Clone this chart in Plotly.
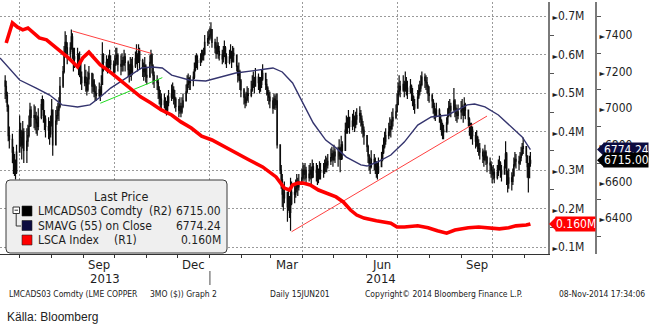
import pandas as pd
import plotly.graph_objects as go

# ---------------------------------------------------------------- data
# LME copper 3M (LMCADS03), daily bars, Mon 17-Jun-2013 .. Fri 07-Nov-2014
first_open = 7150
close = [
    7120, 7070, 7010, 6850, 6830,  6760, 6700, 6680, 6650, 6760,
    6880, 6840, 6800, 6870, 6770,  6820, 6850, 6900, 6990, 6950,
    6960, 6940, 6920, 6900, 6950,  7020, 7040, 6960, 6940, 6900,
    6880, 6860, 6920, 6990, 6800,  6930, 6960, 6990, 7010, 7120,
    7200, 7300, 7360, 7330, 7300,  7330, 7390, 7310, 7270, 7280,
    7280, 7230, 7250, 7170, 7140,  7170, 7140, 7100, 7160, 7190,
    7120, 7150, 7090, 7080, 7070,  7100, 7080, 7130, 7290, 7250,
    7230, 7220, 7250, 7260, 7240,  7200, 7240, 7270, 7290, 7240,
    7230, 7260, 7240, 7280, 7250,  7210, 7180, 7240, 7200, 7230,
    7270, 7290, 7250, 7310, 7260,  7220, 7200, 7230, 7180, 7170,
    7250, 7290, 7230, 7180, 7150,  7140, 7100, 7060, 7050, 7020,
    7040, 7000, 6990, 7030, 7060,  7080, 7100, 7060, 7050, 7010,
    6990, 7010, 6980, 7010, 7040,  7090, 7130, 7160, 7140, 7150,
    7170, 7210, 7240, 7260, 7250,  7270, 7290, 7290, 7300, 7360,
    7380, 7390, 7400, 7430, 7360,  7330, 7300, 7340, 7310, 7290,
    7270, 7300, 7330, 7280, 7250,  7280, 7310, 7260, 7300, 7290,
    7230, 7180, 7200, 7150, 7100,  7060, 7030, 7050, 7080, 7070,
    7100, 7130, 7150, 7120, 7170,  7140, 7120, 7130, 7160, 7190,
    7130, 7110, 7080, 7060, 7040,  7000, 7050, 7020, 7040, 6800,
    6660, 6610, 6530, 6510, 6540,  6460, 6500, 6430, 6480, 6540,
    6530, 6560, 6600, 6570, 6600,  6620, 6660, 6640, 6660, 6620,
    6640, 6660, 6620, 6680, 6660,  6650, 6630, 6620, 6660, 6650,
    6660, 6680, 6700, 6690, 6710,  6730, 6750, 6720, 6760, 6740,
    6740, 6780, 6720, 6800, 6770,  6880, 6920, 6900, 6950, 6900,
    6930, 6950, 6910, 6940, 6960,  6970, 6940, 6910, 6880, 6850,
    6790, 6740, 6700, 6680, 6720,  6700, 6680, 6660, 6650, 6680,
    6720, 6760, 6790, 6820, 6850,  6870, 6900, 6890, 6930, 6950,
    6980, 7020, 7090, 7120, 7100,  7130, 7100, 7140, 7110, 7090,
    7120, 7080, 7060, 7020, 7000,  7060, 7090, 7110, 7130, 7170,
    7150, 7140, 7120, 7080, 7070,  7040, 7010, 6980, 6960, 6990,
    6960, 6930, 6900, 6880, 6870,  6920, 6960, 7000, 7010, 6990,
    7040, 7000, 6970, 6960, 6980,  6990, 7010, 6960, 7020, 6990,
    6940, 6900, 6880, 6880, 6850,  6820, 6840, 6800, 6780, 6760,
    6740, 6720, 6760, 6730, 6700,  6690, 6660, 6640, 6650, 6620,
    6650, 6680, 6700, 6660, 6640,  6680, 6750, 6640, 6590, 6620,
    6600, 6630, 6690, 6720, 6710,  6700, 6730, 6750, 6780, 6790,
    6740, 6680, 6620, 6700, 6715.00,
]
high = [
    7180, 7150, 7090, 7020, 6900,  6860, 6790, 6750, 6720, 6800,
    6960, 6920, 6880, 6930, 6890,  6890, 6910, 6960, 7030, 7010,
    7020, 7010, 6980, 6960, 7000,  7050, 7070, 7050, 6990, 6960,
    6950, 6930, 6960, 7050, 6990,  6990, 7010, 7030, 7060, 7170,
    7230, 7340, 7420, 7400, 7360,  7360, 7430, 7410, 7330, 7330,
    7330, 7300, 7310, 7260, 7200,  7240, 7210, 7170, 7200, 7230,
    7190, 7190, 7160, 7130, 7120,  7140, 7120, 7180, 7360, 7300,
    7290, 7270, 7290, 7320, 7290,  7260, 7290, 7330, 7330, 7300,
    7290, 7300, 7280, 7320, 7300,  7260, 7240, 7280, 7270, 7280,
    7310, 7350, 7300, 7350, 7330,  7270, 7250, 7280, 7240, 7220,
    7290, 7320, 7300, 7240, 7200,  7180, 7160, 7120, 7100, 7080,
    7080, 7060, 7040, 7070, 7100,  7130, 7140, 7120, 7100, 7060,
    7050, 7060, 7030, 7060, 7080,  7130, 7180, 7190, 7170, 7180,
    7200, 7250, 7290, 7300, 7290,  7300, 7320, 7320, 7330, 7400,
    7420, 7430, 7440, 7470, 7410,  7380, 7360, 7390, 7360, 7340,
    7320, 7340, 7370, 7340, 7300,  7320, 7350, 7300, 7340, 7330,
    7280, 7230, 7250, 7210, 7160,  7110, 7080, 7090, 7120, 7110,
    7150, 7180, 7200, 7170, 7220,  7190, 7170, 7170, 7210, 7240,
    7180, 7160, 7120, 7100, 7090,  7060, 7080, 7070, 7080, 7080,
    6730, 6690, 6640, 6580, 6600,  6540, 6560, 6520, 6620, 6600,
    6590, 6610, 6640, 6620, 6640,  6670, 6700, 6690, 6700, 6680,
    6690, 6700, 6680, 6720, 6700,  6700, 6690, 6670, 6710, 6700,
    6700, 6720, 6740, 6730, 6750,  6780, 6790, 6770, 6800, 6780,
    6790, 6830, 6790, 6850, 6820,  6920, 6960, 6950, 6990, 6950,
    6970, 6990, 6960, 6980, 7000,  7010, 6990, 6960, 6930, 6900,
    6840, 6800, 6750, 6730, 6770,  6750, 6730, 6710, 6700, 6730,
    6760, 6800, 6840, 6870, 6890,  6920, 6950, 6940, 6980, 7000,
    7020, 7080, 7140, 7180, 7150,  7180, 7150, 7200, 7170, 7150,
    7160, 7130, 7110, 7070, 7050,  7100, 7130, 7150, 7180, 7200,
    7190, 7180, 7170, 7130, 7120,  7080, 7050, 7030, 7000, 7030,
    7000, 6970, 6940, 6920, 6910,  6950, 7000, 7040, 7050, 7030,
    7110, 7050, 7020, 7000, 7020,  7040, 7050, 7010, 7060, 7030,
    6990, 6950, 6920, 6920, 6900,  6870, 6880, 6850, 6830, 6810,
    6780, 6770, 6800, 6770, 6740,  6730, 6710, 6680, 6690, 6670,
    6690, 6720, 6740, 6710, 6690,  6720, 6820, 6760, 6660, 6670,
    6650, 6670, 6730, 6760, 6750,  6740, 6760, 6790, 6810, 6840,
    6790, 6740, 6700, 6740, 6760,
]
low = [
    7050, 7030, 6980, 6820, 6780,  6700, 6640, 6630, 6610, 6640,
    6760, 6790, 6720, 6780, 6700,  6700, 6790, 6840, 6900, 6900,
    6890, 6880, 6860, 6850, 6880,  6940, 6990, 6920, 6880, 6840,
    6830, 6800, 6840, 6900, 6740,  6900, 6910, 6940, 6930, 7000,
    7110, 7190, 7290, 7280, 7240,  7260, 7320, 7270, 7200, 7220,
    7240, 7180, 7170, 7130, 7100,  7120, 7090, 7070, 7090, 7130,
    7080, 7090, 7060, 7040, 7040,  7060, 7040, 7070, 7150, 7200,
    7200, 7190, 7200, 7220, 7210,  7170, 7190, 7230, 7240, 7200,
    7180, 7200, 7200, 7230, 7200,  7170, 7140, 7170, 7150, 7180,
    7220, 7240, 7200, 7260, 7210,  7170, 7150, 7170, 7140, 7130,
    7200, 7240, 7190, 7130, 7110,  7100, 7050, 7020, 7000, 6990,
    7000, 6970, 6960, 6980, 7010,  7040, 7050, 7020, 7000, 6980,
    6950, 6970, 6950, 6970, 7000,  7050, 7080, 7110, 7100, 7100,
    7120, 7160, 7200, 7220, 7210,  7230, 7250, 7260, 7260, 7290,
    7340, 7350, 7370, 7380, 7330,  7300, 7270, 7300, 7270, 7260,
    7240, 7250, 7280, 7240, 7220,  7240, 7270, 7220, 7250, 7250,
    7200, 7140, 7150, 7100, 7060,  7020, 7000, 7010, 7040, 7030,
    7060, 7090, 7110, 7080, 7120,  7100, 7080, 7090, 7110, 7150,
    7100, 7070, 7040, 7020, 7000,  6970, 7000, 6990, 7000, 6780,
    6640, 6560, 6460, 6440, 6480,  6380, 6440, 6400, 6330, 6470,
    6480, 6510, 6540, 6520, 6550,  6580, 6610, 6600, 6610, 6580,
    6600, 6610, 6580, 6620, 6620,  6600, 6580, 6590, 6610, 6610,
    6620, 6640, 6650, 6650, 6670,  6690, 6710, 6680, 6710, 6700,
    6680, 6720, 6650, 6730, 6720,  6830, 6860, 6860, 6890, 6860,
    6880, 6900, 6870, 6890, 6910,  6920, 6900, 6860, 6840, 6800,
    6760, 6700, 6660, 6640, 6670,  6660, 6640, 6620, 6610, 6640,
    6680, 6710, 6750, 6780, 6800,  6830, 6850, 6840, 6880, 6900,
    6940, 6980, 7030, 7070, 7060,  7090, 7060, 7090, 7070, 7050,
    7080, 7040, 7010, 6990, 6970,  7010, 7050, 7070, 7090, 7120,
    7110, 7100, 7080, 7040, 7030,  7000, 6970, 6940, 6930, 6950,
    6920, 6880, 6850, 6830, 6830,  6870, 6910, 6950, 6960, 6950,
    6990, 6950, 6930, 6920, 6940,  6940, 6960, 6920, 6960, 6940,
    6900, 6850, 6830, 6830, 6800,  6780, 6790, 6760, 6740, 6720,
    6700, 6680, 6710, 6690, 6650,  6640, 6620, 6590, 6610, 6590,
    6610, 6630, 6660, 6620, 6600,  6640, 6670, 6580, 6540, 6560,
    6550, 6580, 6630, 6680, 6670,  6660, 6690, 6710, 6740, 6750,
    6700, 6620, 6540, 6640, 6680,
]

# SMAVG (55) on close
sma_dates = [
    "2013-06-12", "2013-07-01", "2013-07-17", "2013-07-30", "2013-08-11",
    "2013-08-26", "2013-09-07", "2013-09-17", "2013-09-27", "2013-10-14",
    "2013-10-27", "2013-11-06", "2013-11-16", "2013-11-25", "2013-12-12",
    "2013-12-28", "2014-01-10", "2014-01-26", "2014-02-24", "2014-03-03",
    "2014-03-12", "2014-03-22", "2014-04-01", "2014-04-11", "2014-04-23",
    "2014-05-03", "2014-05-13", "2014-05-27", "2014-06-02", "2014-06-12",
    "2014-06-25", "2014-07-08", "2014-07-21", "2014-08-03", "2014-08-19",
    "2014-08-28", "2014-09-07", "2014-09-14", "2014-09-24", "2014-10-07",
    "2014-10-20", "2014-10-30", "2014-11-07",
]
sma_vals = [
    7274, 7154, 7110, 7072, 7018,
    7007, 7018, 7061, 7110, 7170,
    7220, 7225, 7220, 7181, 7154,
    7149, 7170, 7192, 7214, 7220,
    7198, 7138, 7028, 6919, 6826,
    6783, 6733, 6690, 6684, 6706,
    6744, 6815, 6908, 6952, 6963,
    6990, 7018, 7023, 7007, 6963,
    6897, 6843, 6774.24,
]

# LSCA Index (millions)
lsca_dates = [
    "2013-06-18", "2013-06-24", "2013-06-29", "2013-07-04", "2013-07-09",
    "2013-07-14", "2013-07-20", "2013-07-27", "2013-08-02", "2013-08-09",
    "2013-08-16", "2013-08-21", "2013-08-26", "2013-08-31", "2013-09-06",
    "2013-09-11", "2013-09-17", "2013-09-24", "2013-09-30", "2013-10-07",
    "2013-10-14", "2013-10-20", "2013-10-26", "2013-11-05", "2013-11-15",
    "2013-11-25", "2013-12-04", "2013-12-14", "2013-12-24", "2014-01-03",
    "2014-01-12", "2014-01-25", "2014-02-08", "2014-02-21", "2014-03-06",
    "2014-03-14", "2014-03-19", "2014-03-22", "2014-03-27", "2014-04-01",
    "2014-04-08", "2014-04-16", "2014-04-23", "2014-05-03", "2014-05-10",
    "2014-05-17", "2014-05-23", "2014-05-30", "2014-06-11", "2014-06-25",
    "2014-07-01", "2014-07-08", "2014-07-21", "2014-07-31", "2014-08-09",
    "2014-08-18", "2014-08-26", "2014-09-08", "2014-09-18", "2014-09-28",
    "2014-10-08", "2014-10-17", "2014-10-24", "2014-11-03", "2014-11-07",
]
lsca_vals = [
    0.630, 0.682, 0.671, 0.664, 0.669,
    0.656, 0.643, 0.638, 0.625, 0.612,
    0.594, 0.581, 0.568, 0.591, 0.606,
    0.591, 0.573, 0.560, 0.547, 0.529,
    0.516, 0.503, 0.490, 0.474, 0.456,
    0.443, 0.425, 0.409, 0.388, 0.378,
    0.365, 0.344, 0.326, 0.308, 0.282,
    0.253, 0.248, 0.261, 0.266, 0.266,
    0.261, 0.248, 0.240, 0.230, 0.217,
    0.196, 0.183, 0.175, 0.168, 0.162,
    0.152, 0.152, 0.155, 0.150, 0.142,
    0.136, 0.144, 0.150, 0.152, 0.150,
    0.147, 0.150, 0.155, 0.157, 0.160,
]

# hand-drawn trend lines (on the copper scale)
trend_top_dates, trend_top_vals = ["2013-08-21", "2013-11-05"], [7422, 7300]
trend_mid_dates, trend_mid_vals = ["2013-09-17", "2013-11-16"], [7027, 7167]
trend_up_dates, trend_up_vals = ["2014-03-21", "2014-09-26"], [6325, 6957]

price_ticks = [6400, 6600, 6800, 7000, 7200, 7400]
price_minor = [6300, 6500, 6700, 6900, 7100, 7300, 7500]
lsca_ticks = [0.1, 0.2, 0.3, 0.4, 0.5, 0.6, 0.7]
lsca_minor = [0.15, 0.25, 0.35, 0.45, 0.55, 0.65]

month_labels = [("2013-09-16", "Sep"), ("2013-12-16", "Dec"), ("2014-03-17", "Mar"),
                ("2014-06-16", "Jun"), ("2014-09-16", "Sep")]
year_labels = [("2013-09-22", "2013"), ("2014-06-15", "2014")]
year_break = "2014-01-01"

trade_days = pd.bdate_range("2013-06-17", periods=len(close))
assert len(close) == len(high) == len(low) == 365
opens = [first_open] + close[:-1]

# ---------------------------------------------------------------- layout helpers
W, H = 655, 324
TOP, BOTTOM = 2, 254
R1_X, R2_X = 548, 596
FONT = "DejaVu Sans Condensed, DejaVu Sans, sans-serif"
TXT = "#1e1e1e"


def px_x(X):
    return X / W


def px_y(Y):
    return (BOTTOM - Y) / (BOTTOM - TOP)


def tri(label):
    return "<span style='font-size:8px'>\u25ba</span>" + label


fig = go.Figure()

fig.add_trace(go.Candlestick(
    x=trade_days, open=opens, high=high, low=low, close=close,
    yaxis="y", xaxis="x", whiskerwidth=0,
    increasing=dict(line=dict(color="#0c0c0c", width=1.2), fillcolor="#7e7e7e"),
    decreasing=dict(line=dict(color="#0c0c0c", width=1.2), fillcolor="#7e7e7e"),
    hoverinfo="skip", name="LMCADS03 Comdty",
))
fig.add_trace(go.Scatter(
    x=sma_dates, y=sma_vals, mode="lines", yaxis="y",
    line=dict(color="#34346e", width=1.4), hoverinfo="skip", name="SMAVG (55)",
))
for d, v, c in [(trend_top_dates, trend_top_vals, "#ff4040"),
                (trend_mid_dates, trend_mid_vals, "#22dd22"),
                (trend_up_dates, trend_up_vals, "#ff4040")]:
    fig.add_trace(go.Scatter(x=d, y=v, mode="lines", yaxis="y",
                             line=dict(color=c, width=1), hoverinfo="skip"))
fig.add_trace(go.Scatter(
    x=lsca_dates, y=lsca_vals, mode="lines", yaxis="y2",
    line=dict(color="#ff0000", width=3.6), hoverinfo="skip", name="LSCA Index",
))

# price axis (R2) spans the same pixel height as the LSCA axis (R1)
p_per_px = (price_ticks[-1] - price_ticks[0]) / (218 - 35)
price_range = [price_ticks[0] - (BOTTOM - 218) * p_per_px,
               price_ticks[-1] + (35 - TOP) * p_per_px]
l_per_px = (lsca_ticks[-1] - lsca_ticks[0]) / (247 - 16)
lsca_range = [lsca_ticks[0] - (BOTTOM - 247) * l_per_px,
              lsca_ticks[-1] + (16 - TOP) * l_per_px]

fig.update_layout(
    width=W, height=H,
    margin=dict(l=0, r=0, t=TOP, b=H - BOTTOM),
    paper_bgcolor="white", plot_bgcolor="white",
    showlegend=False,
    font=dict(family=FONT, color=TXT, size=12),
    xaxis=dict(
        type="date", domain=[0, px_x(R1_X)],
        range=["2013-06-12", "2014-11-24"],
        tickmode="linear", tick0="2013-07-01", dtick="M3",
        showticklabels=False, ticks="outside", ticklen=3, tickcolor="#333",
        showgrid=True, gridcolor="#9a9a9a", griddash="2px,2px", gridwidth=1,
        showline=True, linecolor="#333", linewidth=1,
        minor=dict(tick0="2013-07-01", dtick="M1", ticks="outside",
                   ticklen=3, tickcolor="#333", showgrid=False),
        zeroline=False, rangeslider=dict(visible=False), anchor="y",
    ),
    yaxis=dict(
        anchor="free", position=px_x(R2_X), side="right",
        range=price_range, tickmode="array", tickvals=price_ticks,
        ticktext=[tri(f"{v}") for v in price_ticks], ticks="",
        showgrid=False, zeroline=False,
        showline=True, linecolor="#7a7a7a", linewidth=2,
        minor=dict(tickmode="array", tickvals=price_minor, ticks="outside",
                   ticklen=4, tickcolor="#555", showgrid=False),
        tickfont=dict(size=12, color=TXT, family=FONT),
    ),
    yaxis2=dict(
        overlaying="y", anchor="x", side="right",
        range=lsca_range, tickmode="array", tickvals=lsca_ticks,
        ticktext=[tri(f"{v:.1f}M") for v in lsca_ticks], ticks="",
        showgrid=True, gridcolor="#9a9a9a", griddash="2px,2px", gridwidth=1,
        zeroline=False, showline=True, linecolor="#7a7a7a", linewidth=2,
        minor=dict(tickmode="array", tickvals=lsca_minor, ticks="outside",
                   ticklen=4, tickcolor="#555", showgrid=False),
        tickfont=dict(size=12, color=TXT, family=FONT),
    ),
)

shapes = []
ann = []

# x-axis labels
for d, t in month_labels:
    ann.append(dict(x=d, xref="x", y=px_y(264), yref="paper", text=t, showarrow=False,
                    xanchor="center", yanchor="middle", font=dict(size=13, color=TXT, family=FONT)))
for d, t in year_labels:
    ann.append(dict(x=d, xref="x", y=px_y(278), yref="paper", text=t, showarrow=False,
                    xanchor="center", yanchor="middle", font=dict(size=13, color=TXT, family=FONT)))
shapes.append(dict(type="line", xref="x", yref="paper", x0=year_break, x1=year_break,
                   y0=px_y(271), y1=px_y(285), line=dict(color="#888", width=1.5)))

# footer
foot_font = dict(size=8.5, color="#222", family=FONT)
for X, t in [(7, "LMCADS03 Comdty (LME COPPER"), (148, "3MO ($)) Graph 2"),
             (268, "Daily 15JUN201"), (363, "Copyright\u00a9 2014 Bloomberg Finance L.P."),
             (557, "08-Nov-2014 17:34:06")]:
    ann.append(dict(x=px_x(X), xref="paper", y=px_y(293.5), yref="paper", text=t,
                    showarrow=False, xanchor="left", yanchor="middle", font=foot_font))
ann.append(dict(x=px_x(5), xref="paper", y=px_y(317), yref="paper", text="K\u00e4lla: Bloomberg",
                showarrow=False, xanchor="left", yanchor="middle",
                font=dict(size=12, color="#222", family="Liberation Sans Narrow, Liberation Sans, Arial")))

# legend box
def rrect(X0, Y0, X1, Y1, r):
    pts = (f"M{px_x(X0 + r)},{px_y(Y0)} L{px_x(X1 - r)},{px_y(Y0)} "
           f"Q{px_x(X1)},{px_y(Y0)} {px_x(X1)},{px_y(Y0 + r)} "
           f"L{px_x(X1)},{px_y(Y1 - r)} Q{px_x(X1)},{px_y(Y1)} {px_x(X1 - r)},{px_y(Y1)} "
           f"L{px_x(X0 + r)},{px_y(Y1)} Q{px_x(X0)},{px_y(Y1)} {px_x(X0)},{px_y(Y1 - r)} "
           f"L{px_x(X0)},{px_y(Y0 + r)} Q{px_x(X0)},{px_y(Y0)} {px_x(X0 + r)},{px_y(Y0)} Z")
    return pts


shapes.append(dict(type="path", xref="paper", yref="paper", path=rrect(6, 180, 227, 253, 4),
                   fillcolor="#efefef", line=dict(color="#3a3a3a", width=1), layer="above"))
leg_font = dict(size=12, color=TXT, family=FONT)
ann.append(dict(x=px_x(121), xref="paper", y=px_y(196), yref="paper", text="Last Price",
                showarrow=False, xanchor="center", yanchor="middle",
                font=dict(size=12.5, color=TXT, family=FONT)))
rows = [
    ("#000000", "LMCADS03 Comdty", "(R2)", f"{close[-1]:.2f}"),
    ("#0c0c40", "SMAVG (55) on Close", "", f"{sma_vals[-1]:.2f}"),
    ("#ff0000", "LSCA Index", "(R1)", f"{lsca_vals[-1]:.3f}M"),
]
row_y = [211, 225.5, 240]
tag_x = {0: 147, 2: 112}
for i, (col, name, axis_tag, val) in enumerate(rows):
    Y = row_y[i]
    shapes.append(dict(type="rect", xref="paper", yref="paper", x0=px_x(22), x1=px_x(32),
                       y0=px_y(Y - 5), y1=px_y(Y + 5), fillcolor=col,
                       line=dict(color="#222", width=0.6), layer="above"))
    ann.append(dict(x=px_x(36), xref="paper", y=px_y(Y), yref="paper", text=name,
                    showarrow=False, xanchor="left", yanchor="middle", font=leg_font))
    if axis_tag:
        ann.append(dict(x=px_x(tag_x[i]), xref="paper", y=px_y(Y), yref="paper", text=axis_tag,
                        showarrow=False, xanchor="left", yanchor="middle", font=leg_font))
    ann.append(dict(x=px_x(223), xref="paper", y=px_y(Y), yref="paper", text=val,
                    showarrow=False, xanchor="right", yanchor="middle", font=leg_font))
# small tree icon beside the legend rows
shapes.append(dict(type="rect", xref="paper", yref="paper", x0=px_x(13), x1=px_x(19.5),
                   y0=px_y(207), y1=px_y(213.5), fillcolor="white",
                   line=dict(color="#333", width=1), layer="above"))
shapes.append(dict(type="line", xref="paper", yref="paper", x0=px_x(14.5), x1=px_x(18),
                   y0=px_y(210.2), y1=px_y(210.2), line=dict(color="#333", width=1), layer="above"))
shapes.append(dict(type="path", xref="paper", yref="paper",
                   path=f"M{px_x(16.2)},{px_y(213.5)} L{px_x(16.2)},{px_y(226)} L{px_x(21)},{px_y(226)}",
                   line=dict(color="#333", width=1), layer="above"))

# last-value tags on the right-hand axes
def add_tag(value, axis, x_axis_px, text, color, width):
    shapes.append(dict(type="path", xref="paper", yref=axis,
                       xsizemode="pixel", ysizemode="pixel",
                       xanchor=px_x(x_axis_px + 1), yanchor=value,
                       path="M0,0 L7,6.8 L7,-6.8 Z",
                       fillcolor=color, line=dict(color=color, width=0), layer="above"))
    ann.append(dict(x=px_x(x_axis_px + 7), xref="paper", y=value, yref=axis, text=text,
                    showarrow=False, xanchor="left", yanchor="middle", bgcolor=color,
                    borderpad=0, width=width, align="left",
                    font=dict(size=12, color="white", family=FONT)))


add_tag(sma_vals[-1], "y", R2_X, f"{sma_vals[-1]:.2f}", "#0c0c40", 44)
add_tag(close[-1], "y", R2_X, f"{close[-1]:.2f}", "#000000", 44)
add_tag(lsca_vals[-1], "y2", R1_X, f"{lsca_vals[-1]:.3f}M", "#ff0000", 39)

fig.update_layout(shapes=shapes, annotations=ann)
fig.write_html("out.html")
